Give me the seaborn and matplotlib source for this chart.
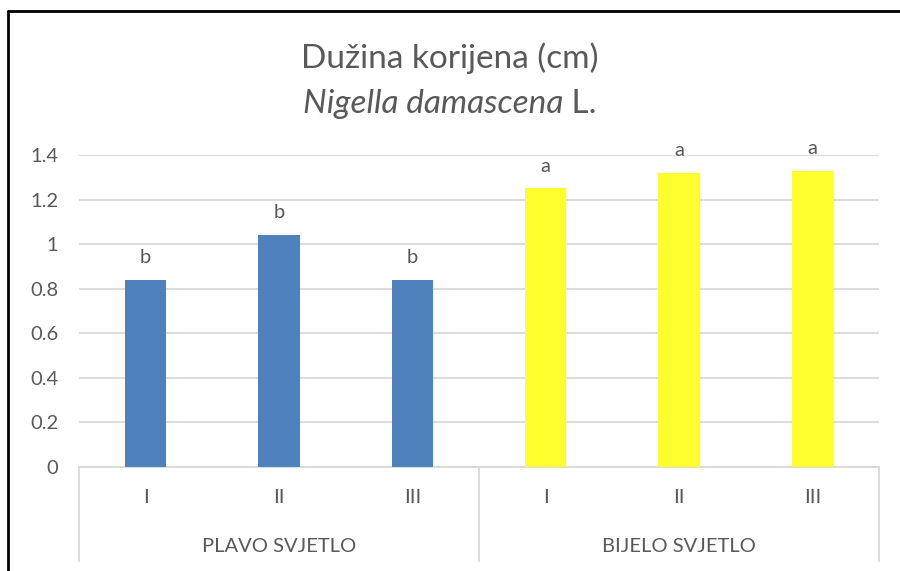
import matplotlib
matplotlib.use("Agg")
import matplotlib.pyplot as plt
from matplotlib.lines import Line2D
import pandas as pd
import seaborn as sns

# Data
groups = ["PLAVO SVJETLO", "PLAVO SVJETLO", "PLAVO SVJETLO",
          "BIJELO SVJETLO", "BIJELO SVJETLO", "BIJELO SVJETLO"]
treatments = ["I", "II", "III", "I", "II", "III"]
root_length = [0.84, 1.04, 0.84, 1.25, 1.32, 1.33]
letters = ["b", "b", "b", "a", "a", "a"]
group_names = ["PLAVO SVJETLO", "BIJELO SVJETLO"]
group_colors = {"PLAVO SVJETLO": "#4F81BD", "BIJELO SVJETLO": "#FFFF2D"}

df = pd.DataFrame({
    "key": [f"{g} {t}" for g, t in zip(groups, treatments)],
    "group": groups,
    "treatment": treatments,
    "value": root_length,
})

sns.set_theme(style="white")
plt.rcParams["font.family"] = ["Lato", "DejaVu Sans"]
text_color = "#595959"
grid_color = "#D9D9D9"
label_size = 14.5

fig = plt.figure(figsize=(9, 5.71), dpi=100)
ax = fig.add_axes([79 / 900, 1 - 467 / 571, 800 / 900, (467 - 155) / 571])

sns.barplot(data=df, x="key", y="value", hue="group", palette=group_colors,
            dodge=False, width=0.31, legend=False, ax=ax, saturation=1,
            linewidth=0, zorder=3)

ax.set_xlim(-0.5, 5.5)
ax.set_ylim(0, 1.4)
ax.set_yticks([0, 0.2, 0.4, 0.6, 0.8, 1.0, 1.2, 1.4])
ax.set_yticklabels(["0", "0.2", "0.4", "0.6", "0.8", "1", "1.2", "1.4"])
ax.yaxis.grid(True, color=grid_color, linewidth=1.3, zorder=0)
ax.set_axisbelow(True)
for side in ["top", "right", "left"]:
    ax.spines[side].set_visible(False)
ax.spines["bottom"].set_color(grid_color)
ax.spines["bottom"].set_linewidth(1.3)
ax.set_xlabel("")
ax.set_ylabel("")
ax.tick_params(axis="y", length=0, labelsize=label_size, labelcolor=text_color, pad=15)
ax.set_xticks(range(len(treatments)))
ax.set_xticklabels(treatments)
ax.tick_params(axis="x", length=0, labelsize=label_size, labelcolor=text_color, pad=16)

# Significance letters above bars
for i, (v, lab) in enumerate(zip(root_length, letters)):
    ax.annotate(lab, (i, v), xytext=(0, 10), textcoords="offset points",
                ha="center", va="bottom", fontsize=label_size, color=text_color,
                annotation_clip=False)

# Group labels and separators of the two-level category axis
trans = ax.get_xaxis_transform()
for gi, name in enumerate(group_names):
    ax.text(gi * 3 + 1, -0.256, name, transform=trans, ha="center", va="center",
            fontsize=label_size, color=text_color, clip_on=False)
for xpos in [-0.5, 2.5, 5.5]:
    ax.add_line(Line2D([xpos, xpos], [0, -0.3], transform=trans, color=grid_color,
                       linewidth=1.3, clip_on=False))

# Title: first line regular, second line species name in italics plus "L."
title_size = 24
fig.text(0.5, 1 - 58 / 571, "Dužina korijena (cm)", ha="center", va="center",
         fontsize=title_size, color=text_color)
renderer = fig.canvas.get_renderer()
y2 = 1 - 104 / 571
t_it = fig.text(0, y2, "Nigella damascena", ha="left", va="center",
                fontsize=title_size, style="italic", color=text_color)
t_rg = fig.text(0, y2, " L.", ha="left", va="center",
                fontsize=title_size, color=text_color)
w_it = t_it.get_window_extent(renderer).width / fig.bbox.width
w_rg = t_rg.get_window_extent(renderer).width / fig.bbox.width
x0 = 0.5 - (w_it + w_rg) / 2
t_it.set_x(x0)
t_rg.set_x(x0 + w_it)

# Chart frame
fig.add_artist(Line2D([8 / 900, 8 / 900], [0, 1 - 11 / 571], transform=fig.transFigure,
                      color="black", linewidth=2))
fig.add_artist(Line2D([8 / 900, 1], [1 - 11 / 571, 1 - 11 / 571], transform=fig.transFigure,
                      color="black", linewidth=2))

fig.savefig("out.png", dpi=100, facecolor="white")
